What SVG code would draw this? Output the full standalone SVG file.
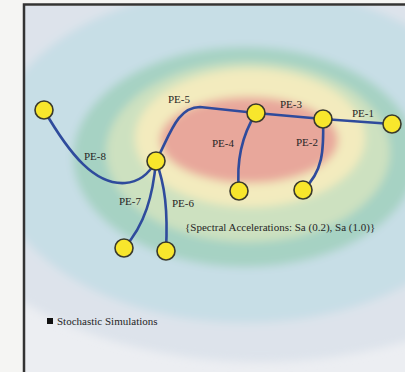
<svg xmlns="http://www.w3.org/2000/svg" width="405" height="372" viewBox="0 0 405 372">
<defs>
<style>
.lbl{font-family:"Liberation Serif","Times New Roman",serif;font-size:11px;fill:#262626}
.edge{fill:none;stroke:#2f4b9c;stroke-width:2.6;stroke-linecap:round}
.node{fill:#f8e62c;stroke:#3a3a2c;stroke-width:1.6}
</style>
<clipPath id="frameClip"><rect x="25" y="6" width="400" height="380"/></clipPath>
<filter id="soft" x="-20%" y="-20%" width="140%" height="140%"><feGaussianBlur stdDeviation="4"/></filter>
</defs>
<rect x="0" y="0" width="405" height="372" fill="#f5f5f3"/>
<g id="background" clip-path="url(#frameClip)">
<rect x="20" y="0" width="400" height="380" fill="#eceef2"/>
<g filter="url(#soft)">
<ellipse cx="260" cy="150" rx="340" ry="212" fill="#dde3eb"/>
<ellipse cx="245" cy="155" rx="255" ry="168" fill="#c7dee6"/>
<ellipse cx="245" cy="157" rx="172" ry="110" fill="#a6d2c3"/>
<ellipse cx="248" cy="152" rx="142" ry="90" fill="#cde1c0"/>
<ellipse cx="250" cy="138" rx="115" ry="69" fill="#f3ebbe"/>
<ellipse cx="249" cy="140" rx="89" ry="43" fill="#e8a79b"/>
</g>
</g>
<rect id="frame" x="24" y="4.5" width="400" height="380" fill="none" stroke="#333" stroke-width="2.5"/>
<g id="connectors">
<path id="PE-1" class="edge" d="M323,119 L392,124"/>
<path id="PE-3" class="edge" d="M256,113 L323,119"/>
<path id="PE-5" class="edge" d="M156,161 C170,135 177,107 200,107 L256,113"/>
<path id="PE-4" class="edge" d="M256,113 C242,135 236,160 239,191"/>
<path id="PE-2" class="edge" d="M323,119 C324,150 323,172 303,190"/>
<path id="PE-8" class="edge" d="M44,110 C70,155 95,185 125,183 C140,182 150,172 156,161"/>
<path id="PE-7" class="edge" d="M156,161 C153,195 145,225 124,248"/>
<path id="PE-6" class="edge" d="M156,161 C165,185 168,210 166,251"/>
</g>
<g id="labels" font-family="Liberation Serif, serif">
<text class="lbl" x="84" y="160">PE-8</text>
<text class="lbl" x="168" y="103">PE-5</text>
<text class="lbl" x="280" y="108">PE-3</text>
<text class="lbl" x="352" y="117">PE-1</text>
<text class="lbl" x="212" y="147">PE-4</text>
<text class="lbl" x="296" y="146">PE-2</text>
<text class="lbl" x="119" y="205">PE-7</text>
<text class="lbl" x="172" y="207">PE-6</text>
<text class="lbl" x="185" y="231">{Spectral Accelerations: Sa (0.2), Sa (1.0)}</text>
<g id="legend">
<rect x="47" y="318" width="6" height="6" fill="#111"/>
<text class="lbl" x="57" y="325">Stochastic Simulations</text>
</g>
</g>
<g id="nodes">
<circle id="n-left" class="node" cx="44" cy="110" r="9"/>
<circle id="n-hub" class="node" cx="156" cy="161" r="9"/>
<circle id="n-top" class="node" cx="256" cy="113" r="9"/>
<circle id="n-junction" class="node" cx="323" cy="119" r="9"/>
<circle id="n-right" class="node" cx="392" cy="124" r="9"/>
<circle id="n-pe4" class="node" cx="239" cy="191" r="9"/>
<circle id="n-pe2" class="node" cx="303" cy="190" r="9"/>
<circle id="n-pe7" class="node" cx="124" cy="248" r="9"/>
<circle id="n-pe6" class="node" cx="166" cy="251" r="9"/>
</g>
</svg>
